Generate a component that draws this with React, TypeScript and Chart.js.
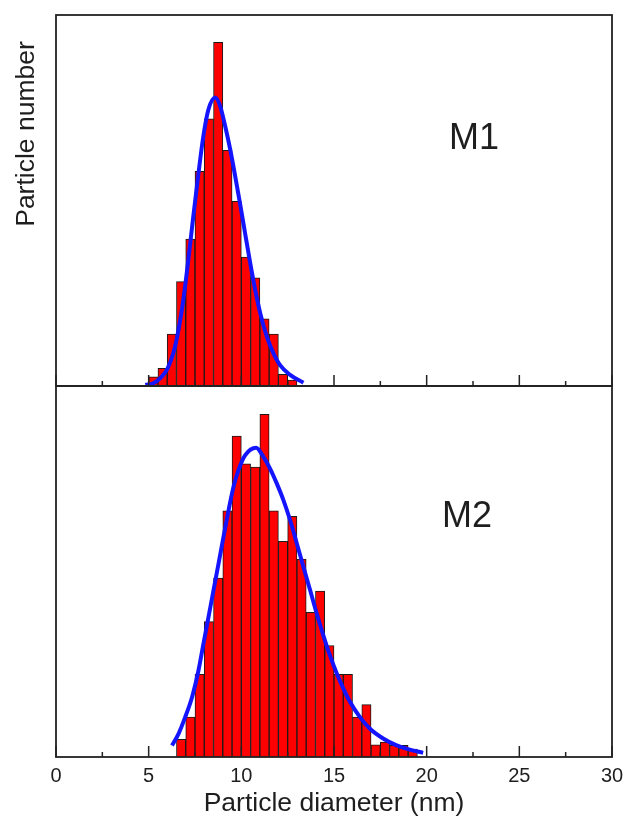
import React, { useEffect, useRef } from "react";
import { Chart, registerables } from "chart.js";

Chart.register(...registerables);

const FONT = "'Liberation Sans', Arial, Helvetica, sans-serif";
const TEXT_COLOR = "#1e1e1e";
const BAR_FILL = "#ff0000";
const BAR_EDGE = "#1a1a1a";
const FIT_COLOR = "#1414ff";

const X_MIN = 0;
const X_MAX = 30;
const Y_MAX = 80;
const X_MAJOR_TICKS = [0, 5, 10, 15, 20, 25, 30];
const X_MINOR_TICKS = [2.5, 7.5, 12.5, 17.5, 22.5, 27.5];
const X_TITLE = "Particle diameter (nm)";
const Y_TITLE = "Particle number";

// M1 histogram (bin width 0.5 nm, bin centres)
const M1_CENTERS = [5.25, 5.75, 6.25, 6.75, 7.25, 7.75, 8.25, 8.75, 9.25, 9.75, 10.25, 10.75, 11.25, 11.75, 12.25, 12.75];
const M1_COUNTS = [2.0, 3.8, 11.2, 22.5, 31.7, 46.3, 57.6, 74.1, 50.8, 39.8, 27.8, 23.3, 14.5, 11.2, 2.5, 1.3];

// M1 fitted curve
const M1_FIT_X = [4.82, 5.25, 5.63, 6.01, 6.33, 6.6, 6.87, 7.14, 7.4, 7.67, 7.94, 8.21, 8.59, 8.86, 9.13, 9.4, 9.67, 9.94, 10.2, 10.48, 10.75, 11.02, 11.38, 11.73, 12.09, 12.63, 13.35];
const M1_FIT_Y = [0.2, 0.6, 1.7, 3.7, 7.1, 11.9, 18.6, 27.2, 36.3, 45.3, 53.6, 59.4, 62.2, 60.3, 56.0, 51.0, 45.2, 39.1, 33.0, 26.5, 20.7, 15.7, 10.6, 7.1, 4.5, 2.4, 0.7];

// M2 histogram
const M2_CENTERS = [6.75, 7.25, 7.75, 8.25, 8.75, 9.25, 9.75, 10.25, 10.75, 11.25, 11.75, 12.25, 12.75, 13.25, 13.75, 14.25, 14.75, 15.25, 15.75, 16.25, 16.75, 17.25, 17.75, 18.25, 18.75, 19.25];
const M2_COUNTS = [3.8, 8.6, 17.8, 29.2, 38.6, 53.1, 69.2, 63.2, 62.5, 73.9, 53.1, 46.5, 51.9, 42.7, 31.2, 35.8, 24.0, 17.8, 17.8, 8.6, 11.3, 2.6, 3.2, 2.5, 2.5, 1.7];

// M2 fitted curve
const M2_FIT_X = [6.26, 6.61, 6.97, 7.34, 7.69, 7.96, 8.23, 8.5, 8.77, 9.04, 9.31, 9.58, 9.85, 10.21, 10.8, 11.19, 11.55, 11.91, 12.27, 12.63, 12.99, 13.35, 13.71, 14.07, 14.42, 14.78, 15.15, 15.5, 15.86, 16.4, 16.94, 17.65, 18.38, 19.09, 19.81];
const M2_FIT_Y = [2.5, 5.0, 8.6, 12.9, 18.7, 24.5, 30.2, 36.0, 41.7, 47.5, 53.2, 58.3, 61.9, 65.1, 66.7, 64.7, 62.2, 59.0, 55.4, 51.1, 46.1, 41.0, 36.0, 30.9, 26.3, 21.9, 18.0, 14.8, 11.9, 8.6, 6.1, 4.0, 2.5, 1.6, 0.9];

type PanelOpts = {
  id: string;
  label: string;
  labelX: number;
  labelY: number;
  showYTitle: boolean;
};

function framePlugin(o: PanelOpts) {
  return {
    id: "frame-" + o.id,
    afterDatasetsDraw(chart: any) {
      const ctx = chart.ctx as CanvasRenderingContext2D;
      const { left, right, top, bottom } = chart.chartArea;
      const xs = chart.scales.x;
      ctx.save();
      ctx.strokeStyle = "#222";
      ctx.lineWidth = 1.5;
      ctx.beginPath();
      for (const v of X_MAJOR_TICKS) {
        const px = xs.getPixelForValue(v);
        ctx.moveTo(px, bottom);
        ctx.lineTo(px, bottom - 11);
      }
      for (const v of X_MINOR_TICKS) {
        const px = xs.getPixelForValue(v);
        ctx.moveTo(px, bottom);
        ctx.lineTo(px, bottom - 5);
      }
      ctx.stroke();
      ctx.lineWidth = 1.8;
      ctx.strokeRect(left, top, right - left, bottom - top);
      ctx.restore();
    },
    afterDraw(chart: any) {
      const ctx = chart.ctx as CanvasRenderingContext2D;
      ctx.save();
      ctx.fillStyle = TEXT_COLOR;
      ctx.font = `36px ${FONT}`;
      ctx.textAlign = "left";
      ctx.textBaseline = "alphabetic";
      ctx.fillText(o.label, o.labelX, o.labelY);
      if (o.showYTitle) {
        ctx.font = `26.5px ${FONT}`;
        ctx.translate(33.5, 134);
        ctx.rotate(-Math.PI / 2);
        ctx.textAlign = "center";
        ctx.fillText(Y_TITLE, 0, 0);
      }
      ctx.restore();
    },
  };
}

function makeConfig(
  centers: number[],
  counts: number[],
  fitX: number[],
  fitY: number[],
  isBottom: boolean,
  o: PanelOpts
): any {
  return {
    type: "bar",
    data: {
      datasets: [
        {
          type: "line",
          data: fitX.map((x, i) => ({ x, y: fitY[i] })),
          borderColor: FIT_COLOR,
          borderWidth: 4,
          pointRadius: 0,
          cubicInterpolationMode: "monotone",
          fill: false,
          order: 0,
        },
        {
          type: "bar",
          data: centers.map((x, i) => ({ x, y: counts[i] })),
          backgroundColor: BAR_FILL,
          borderColor: BAR_EDGE,
          borderWidth: 1,
          barPercentage: 1,
          categoryPercentage: 1,
          order: 1,
        },
      ],
    },
    options: {
      responsive: false,
      animation: false,
      devicePixelRatio: 1,
      events: [],
      layout: {
        padding: isBottom
          ? { left: 56, right: 13, top: 16, bottom: 0 }
          : { left: 56, right: 13, top: 15, bottom: 14 },
      },
      plugins: { legend: { display: false }, tooltip: { enabled: false } },
      scales: {
        x: {
          type: "linear",
          min: X_MIN,
          max: X_MAX,
          offset: false,
          display: isBottom,
          afterBuildTicks: (s: any) => {
            s.ticks = X_MAJOR_TICKS.map((v) => ({ value: v }));
          },
          ticks: {
            stepSize: 5,
            autoSkip: false,
            maxRotation: 0,
            color: TEXT_COLOR,
            padding: 7,
            font: { family: FONT, size: 20 },
          },
          grid: { display: false, drawTicks: false, offset: false },
          border: { display: false },
          title: {
            display: true,
            text: X_TITLE,
            color: TEXT_COLOR,
            font: { family: FONT, size: 26.5, lineHeight: 1 },
            padding: { top: 0, bottom: 0 },
          },
          afterFit: (s: any) => {
            if (isBottom) {
              s.height = 60;
              s.paddingLeft = 0;
              s.paddingRight = 0;
            }
          },
        },
        y: { display: false, min: 0, max: Y_MAX },
      },
    },
    plugins: [framePlugin(o)],
  };
}

export default function App() {
  const topRef = useRef<HTMLCanvasElement>(null);
  const botRef = useRef<HTMLCanvasElement>(null);
  useEffect(() => {
    const top = new Chart(
      topRef.current!,
      makeConfig(M1_CENTERS, M1_COUNTS, M1_FIT_X, M1_FIT_Y, false, {
        id: "m1",
        label: "M1",
        labelX: 449,
        labelY: 149,
        showYTitle: true,
      })
    );
    const bot = new Chart(
      botRef.current!,
      makeConfig(M2_CENTERS, M2_COUNTS, M2_FIT_X, M2_FIT_Y, true, {
        id: "m2",
        label: "M2",
        labelX: 442,
        labelY: 527 - 370,
        showYTitle: false,
      })
    );
    return () => {
      top.destroy();
      bot.destroy();
    };
  }, []);
  return (
    <div
      style={{
        position: "absolute",
        left: 0,
        top: 0,
        width: 625,
        height: 817,
        background: "#fff",
        overflow: "hidden",
      }}
    >
      <canvas
        ref={topRef}
        width={625}
        height={400}
        style={{ position: "absolute", left: 0, top: 0, width: 625, height: 400 }}
      />
      <canvas
        ref={botRef}
        width={625}
        height={447}
        style={{ position: "absolute", left: 0, top: 370, width: 625, height: 447 }}
      />
    </div>
  );
}
